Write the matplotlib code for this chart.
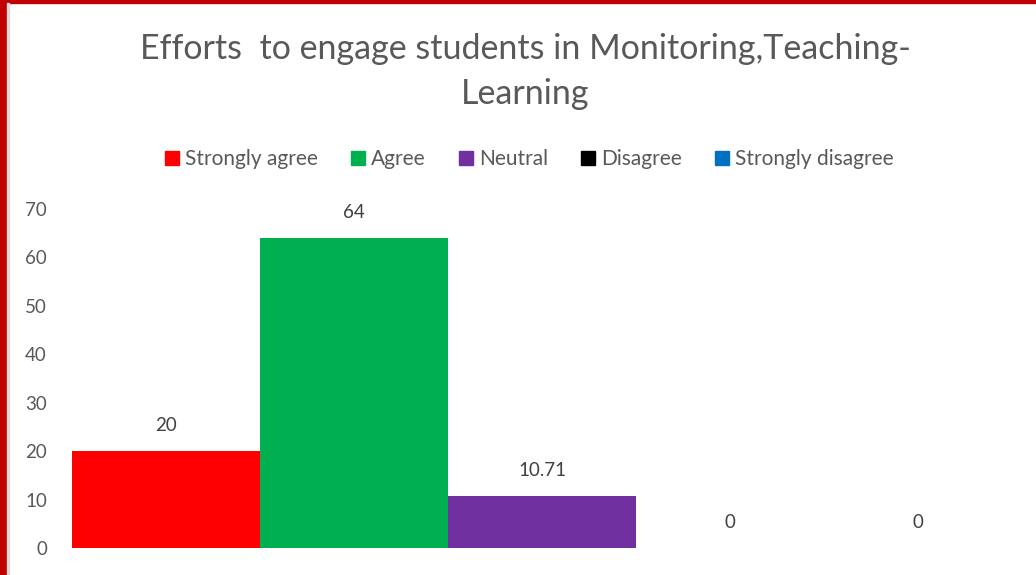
import matplotlib
matplotlib.use("Agg")
import matplotlib.pyplot as plt
import matplotlib.patches as mpatches

plt.rcParams['font.family'] = ['Lato', 'DejaVu Sans']

# ── data ──────────────────────────────────────────────────────────────────────
categories = ["Strongly agree", "Agree", "Neutral", "Disagree", "Strongly disagree"]
values = [20, 64, 10.71, 0, 0]
value_labels = ["20", "64", "10.71", "0", "0"]
colors = ["#FF0000", "#00B050", "#7030A0", "#000000", "#0070C0"]
y_ticks = [0, 10, 20, 30, 40, 50, 60, 70]

TXT = "#595959"

fig = plt.figure(figsize=(10.36, 5.75), dpi=100)
ax = fig.add_axes([72 / 1036, 1 - 548 / 575, 940 / 1036, (548 - 209) / 575])

x = list(range(len(values)))
ax.bar(x, values, width=1.0, color=colors, label=categories)
for xi, v, lab in zip(x, values, value_labels):
    ax.annotate(lab, (xi, v), xytext=(0, 12), textcoords="offset points",
                ha="center", va="bottom", fontsize=13.5, color="#404040")

ax.set_xlim(-0.5, len(values) - 0.5)
ax.set_ylim(0, 70)
ax.set_yticks(y_ticks)
ax.tick_params(axis="y", length=0, labelsize=13.5, labelcolor=TXT, pad=18)
ax.set_xticks([])
for s in ax.spines.values():
    s.set_visible(False)

fig.text(0.507, 1 - 33 / 575, "Efforts  to engage students in Monitoring,Teaching-\nLearning",
         ha="center", va="top", fontsize=24.5, color=TXT, linespacing=1.5)

handles = [mpatches.Patch(color=c, label=l) for c, l in zip(colors, categories)]
fig.legend(handles=handles, loc="center", bbox_to_anchor=(0.511, 1 - 159 / 575),
           ncol=5, frameon=False, fontsize=15, labelcolor=TXT,
           handlelength=0.65, handleheight=0.65, handletextpad=0.3, columnspacing=1.6)

# red frame on left and top edges
fig.patches.append(mpatches.Rectangle((0, 0), 7 / 1036, 1, transform=fig.transFigure,
                                      color="#C00000", zorder=5))
fig.patches.append(mpatches.Rectangle((0, 1 - 3 / 575), 1, 3 / 575, transform=fig.transFigure,
                                      color="#C00000", zorder=5))
fig.patches.append(mpatches.Rectangle((7 / 1036, 0), 1.5 / 1036, 1 - 3 / 575,
                                      transform=fig.transFigure, color="#D9D9D9", zorder=5))

fig.savefig("out.png", dpi=100)
